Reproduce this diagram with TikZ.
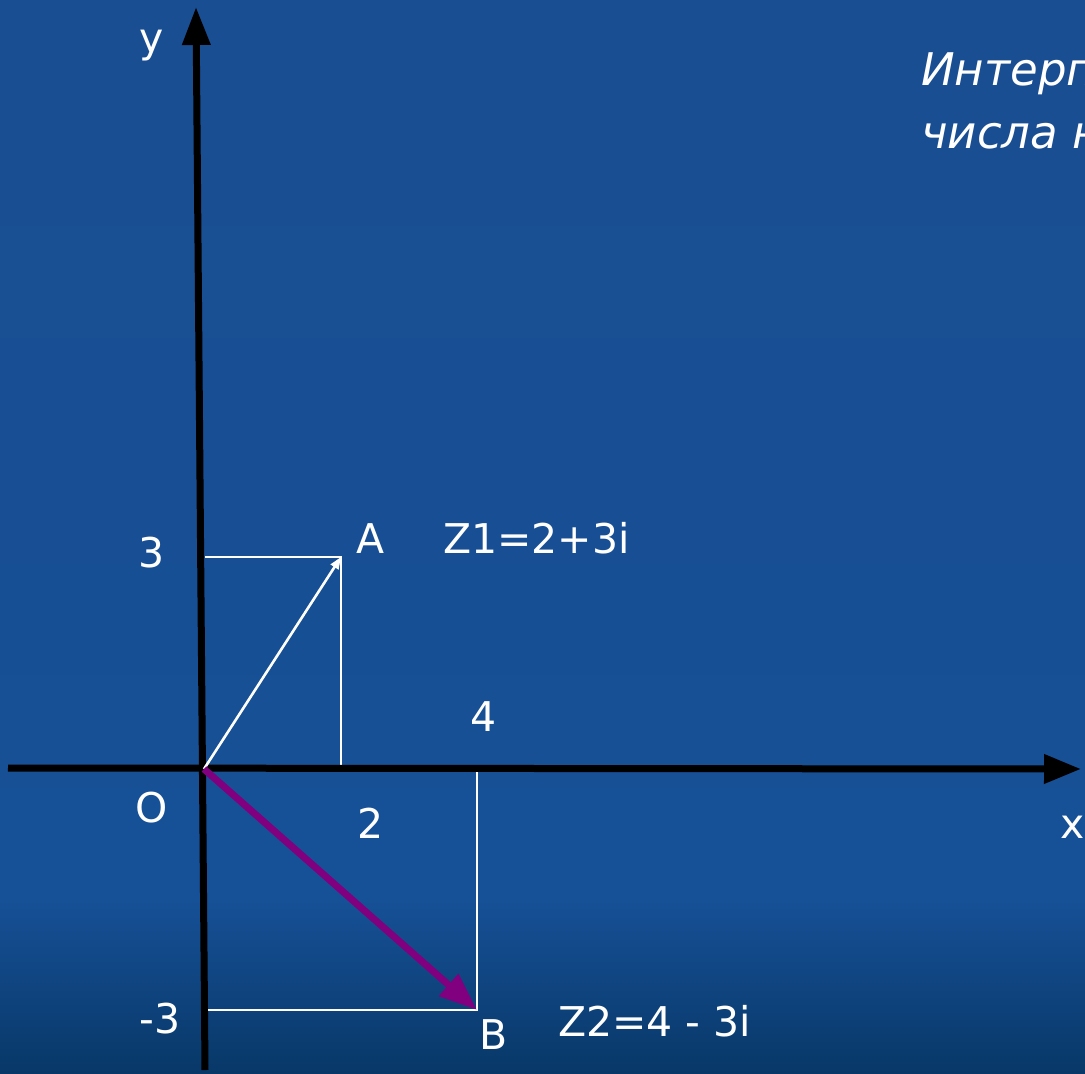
\documentclass[tikz,border=0pt]{standalone}
\usepackage{fontspec}
\setmainfont{DejaVu Sans}
\usetikzlibrary{arrows.meta}
\definecolor{bgtop}{RGB}{26,78,146}
\definecolor{bgmid}{RGB}{22,80,150}
\definecolor{bgbot}{RGB}{8,56,104}
\definecolor{vec}{RGB}{128,0,128}
\tikzset{
  lbl/.style={text=white,inner sep=0pt,anchor=base,font=\fontsize{41}{49}\selectfont},
  lblw/.style={lbl,anchor=base west},
  axis/.style={black,line width=7pt},
  guide/.style={white,line width=2.8pt},
}
\begin{document}
\begin{tikzpicture}[x=1pt,y=-1pt]
\useasboundingbox (0,0) rectangle (1085,1074);
\shade[top color=bgtop,bottom color=bgmid] (0,0) rectangle (1085,900);
\shade[top color=bgmid,bottom color=bgbot] (0,899) rectangle (1085,1074);
% coordinates
\coordinate (O) at (204,769);
\coordinate (A) at (341,557);
\coordinate (B) at (477,1010);
\coordinate (Ay) at (205,557);
\coordinate (Ax) at (341,769);
\coordinate (Bx) at (477,770);
\coordinate (By) at (205,1010);
\coordinate (Ybot) at (205,1070);
\coordinate (Ytop) at (196,7);
\coordinate (Xleft) at (8,768);
\coordinate (Xright) at (1081,769);
% guides
\draw[guide] (Ay) -- (A) -- (Ax);
\draw[guide] (By) -- (B) -- (Bx);
% axes
\draw[axis,-{Triangle[length=38pt,width=27pt]}] (Ybot) -- (Ytop);
\draw[axis,-{Triangle[length=37pt,width=28pt]}] (Xleft) -- (Xright);
% vectors
\draw[white,line width=2.6pt,-{Triangle[length=12pt,width=9pt]}] (O) -- (A);
\draw[vec,line width=7pt,-{Triangle[length=38pt,width=28pt]}] (O) -- (B);
% labels
\node[lbl] (ly) at (152,52) {y};
\node[lbl] (l3) at (152,567) {3};
\node[lbl] (lA) at (371,553) {A};
\node[lblw] (lz1) at (443,553) {Z1=2+3i};
\node[lbl] (l4) at (484,731) {4};
\node[lbl] (lO) at (152,822) {O};
\node[lbl] (l2) at (371,838) {2};
\node[lbl] (lx) at (1073,838) {x};
\node[lbl] (lm3) at (160,1033) {-3};
\node[lbl] (lB) at (494,1049) {B};
\node[lblw] (lz2) at (558,1036) {Z2=4 - 3i};
% title (clipped at right edge, as in the reference)
\begin{scope}
\clip (0,0) rectangle (1085,1074);
\node[lblw,font=\fontsize{45}{54}\selectfont\itshape] (t1) at (921,85) {Интерпретация};
\node[lblw,font=\fontsize{45}{54}\selectfont\itshape] (t2) at (921,148) {числа на};
\end{scope}
\end{tikzpicture}
\end{document}
